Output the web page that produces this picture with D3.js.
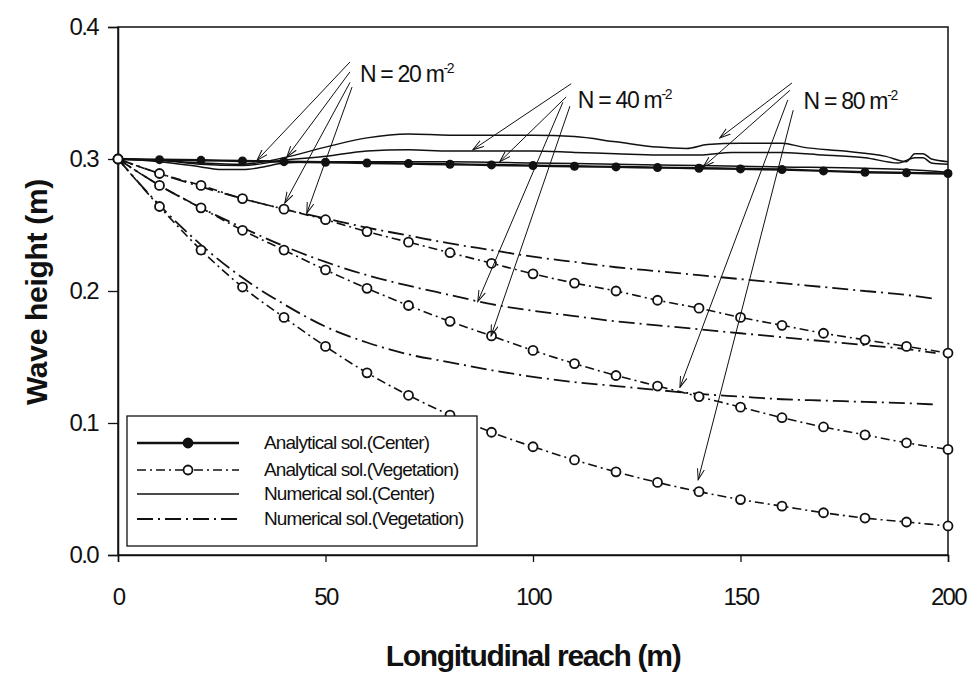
<!DOCTYPE html>
<html>
<head>
<meta charset="utf-8">
<script src="https://cdn.jsdelivr.net/npm/d3@7"></script>
<style>
  body { margin: 0; background: #fff; }
  svg { font-family: "Liberation Sans", Arial, sans-serif; }
</style>
</head>
<body>
<div id="svg-area"></div>
<script>
// ---- data ----
var stations = [0, 10, 20, 30, 40, 50, 60, 70, 80, 90, 100, 110, 120, 130, 140, 150, 160, 170, 180, 190, 200];

// analytical solution, centre of channel (filled dots)
var anaCenter = [0.300, 0.2995, 0.299, 0.2985, 0.298, 0.2975, 0.297, 0.2965, 0.296, 0.2955, 0.295,
  0.2945, 0.294, 0.2935, 0.293, 0.2925, 0.292, 0.291, 0.290, 0.2895, 0.289];

// analytical solution, vegetation zone (open circles)
var anaVeg20 = [0.300, 0.289, 0.280, 0.270, 0.262, 0.254, 0.245, 0.237, 0.229, 0.221, 0.213,
  0.206, 0.200, 0.193, 0.187, 0.180, 0.174, 0.168, 0.163, 0.158, 0.153];
var anaVeg40 = [0.300, 0.280, 0.263, 0.246, 0.231, 0.216, 0.202, 0.189, 0.177, 0.166, 0.155,
  0.145, 0.136, 0.128, 0.120, 0.112, 0.104, 0.097, 0.091, 0.085, 0.080];
var anaVeg80 = [0.300, 0.264, 0.231, 0.203, 0.180, 0.158, 0.138, 0.121, 0.106, 0.093, 0.082,
  0.072, 0.063, 0.055, 0.048, 0.042, 0.037, 0.032, 0.028, 0.025, 0.022];

// numerical solution, vegetation zone (no markers)
var numVeg20 = [0.300, 0.289, 0.279, 0.270, 0.262, 0.255, 0.248, 0.242, 0.236, 0.231, 0.226,
  0.222, 0.218, 0.215, 0.212, 0.209, 0.206, 0.203, 0.200, 0.197, 0.194];
var numVeg40 = [0.300, 0.280, 0.263, 0.248, 0.234, 0.222, 0.212, 0.204, 0.197, 0.190, 0.185,
  0.181, 0.177, 0.174, 0.171, 0.168, 0.165, 0.162, 0.159, 0.156, 0.153];
var numVeg80 = [0.300, 0.265, 0.235, 0.210, 0.190, 0.173, 0.161, 0.152, 0.146, 0.140, 0.135,
  0.131, 0.128, 0.125, 0.122, 0.120, 0.118, 0.117, 0.116, 0.115, 0.114];

// numerical solution, centre of channel (irregular sampling, x / value)
var numCenterA_x = [0, 10, 20, 30, 40, 50, 60, 70, 80, 90, 100, 110, 120, 130, 137, 142, 150, 160, 165, 175, 185, 190, 192, 194, 196, 200];
var numCenterA = [0.300, 0.299, 0.297, 0.296, 0.301, 0.309, 0.316, 0.319, 0.318, 0.318, 0.318, 0.317, 0.313, 0.309, 0.308, 0.311, 0.312, 0.312, 0.309, 0.306, 0.302, 0.298, 0.304, 0.304, 0.300, 0.298];
var numCenterB_x = [0, 10, 20, 30, 40, 50, 60, 70, 80, 90, 100, 110, 120, 130, 140, 148, 160, 170, 180, 188, 192, 194, 196, 200];
var numCenterB = [0.300, 0.299, 0.296, 0.295, 0.299, 0.302, 0.306, 0.307, 0.306, 0.306, 0.306, 0.305, 0.304, 0.303, 0.303, 0.305, 0.305, 0.303, 0.301, 0.297, 0.301, 0.301, 0.297, 0.296];
var numCenterC_x = [0, 10, 20, 25, 30, 35, 40, 50, 60, 80, 100, 120, 140, 160, 180, 190, 200];
var numCenterC = [0.300, 0.298, 0.294, 0.292, 0.292, 0.294, 0.297, 0.298, 0.298, 0.298, 0.297, 0.296, 0.295, 0.294, 0.293, 0.292, 0.290];

var xTicks = [0, 50, 100, 150, 200];
var yTicks = [0.0, 0.1, 0.2, 0.3, 0.4];

// annotation labels: text anchor, arrow tails and arrow heads in data units
var noteLabels = ["20", "40", "80"];
var notePos = [[58.3, 0.358], [110.8, 0.339], [165.2, 0.338]];
var noteTails = [
  [[55.9, 0.3735], [55.9, 0.366], [55.9, 0.358], [56.4, 0.3545]],
  [[109.2, 0.357], [108.0, 0.347], [107.2, 0.343], [108.9, 0.340]],
  [[162.4, 0.3576], [161.9, 0.352], [161.4, 0.3447], [162.7, 0.337]]
];
var noteHeads = [
  [[33.5, 0.299], [40.7, 0.3015], [40.2, 0.2667], [45.5, 0.259]],
  [[85.5, 0.307], [92.0, 0.298], [86.7, 0.192], [89.9, 0.166]],
  [[145.0, 0.316], [141.0, 0.294], [135.4, 0.127], [139.8, 0.057]]
];

var legendLabels = ["Analytical sol.(Center)", "Analytical sol.(Vegetation)", "Numerical sol.(Center)", "Numerical sol.(Vegetation)"];

// ---- layout ----
var svgWidth = 973;
var svgHeight = 677;
var margin = { top: 27, right: 25, bottom: 122, left: 118 };
var chartWidth = svgWidth - margin.left - margin.right;
var chartHeight = svgHeight - margin.top - margin.bottom;

var svg = d3.select("#svg-area")
  .append("svg")
  .attr("width", svgWidth)
  .attr("height", svgHeight);

var defs = svg.append("defs");
defs.append("marker")
  .attr("id", "arrow")
  .attr("viewBox", "0 0 12 8")
  .attr("refX", 11)
  .attr("refY", 4)
  .attr("markerWidth", 12)
  .attr("markerHeight", 8)
  .attr("markerUnits", "userSpaceOnUse")
  .attr("orient", "auto")
  .append("path")
  .attr("d", "M0,0.5 L11,4 L0,7.5")
  .attr("fill", "none")
  .attr("stroke", "#111")
  .attr("stroke-width", 1);

var chartGroup = svg.append("g")
  .attr("transform", `translate(${margin.left}, ${margin.top})`);

var xScale = d3.scaleLinear().domain([0, 200]).range([0, chartWidth]);
var yScale = d3.scaleLinear().domain([0, 0.4]).range([chartHeight, 0]);

// frame
chartGroup.append("rect")
  .attr("width", chartWidth)
  .attr("height", chartHeight)
  .attr("fill", "none")
  .attr("stroke", "#111")
  .attr("stroke-width", 1.5);

// axes
var bottomAxis = d3.axisBottom(xScale).tickValues(xTicks).tickSize(7).tickPadding(26).tickFormat(d3.format("d"));
var leftAxis = d3.axisLeft(yScale).tickValues(yTicks).tickSize(10).tickPadding(10).tickFormat(d3.format(".1f"));

var gx = chartGroup.append("g")
  .attr("transform", `translate(0, ${chartHeight})`)
  .call(bottomAxis);
var gy = chartGroup.append("g").call(leftAxis);

[gx, gy].forEach(function(g) {
  g.select(".domain").attr("stroke", "#111").attr("stroke-width", 1.5);
  g.selectAll(".tick line").attr("stroke", "#111").attr("stroke-width", 1.3);
  g.selectAll(".tick text")
    .attr("fill", "#111")
    .style("font-size", "24px")
    .style("letter-spacing", "-1.6px")
    .style("font-family", "Liberation Sans, Arial, sans-serif");
});

// axis titles
svg.append("text")
  .attr("x", margin.left + chartWidth / 2)
  .attr("y", 666)
  .attr("text-anchor", "middle")
  .style("font-size", "30px")
  .style("font-weight", "bold")
  .style("letter-spacing", "-1.3px")
  .attr("fill", "#111")
  .text("Longitudinal reach (m)");

svg.append("text")
  .attr("transform", `translate(47, 292) rotate(-90)`)
  .attr("text-anchor", "middle")
  .style("font-size", "30px")
  .style("font-weight", "bold")
  .style("letter-spacing", "-0.3px")
  .attr("fill", "#111")
  .text("Wave height (m)");

// line generators
var lineStations = d3.line()
  .x((d, i) => xScale(stations[i]))
  .y(d => yScale(d))
  .curve(d3.curveMonotoneX);

function lineXY(xs) {
  return d3.line()
    .x((d, i) => xScale(xs[i]))
    .y(d => yScale(d))
    .curve(d3.curveMonotoneX);
}

var dashNum = "16,5,2,5";
var dashAna = "9,4,2,4";

// numerical vegetation
[numVeg20, numVeg40, numVeg80].forEach(function(s) {
  chartGroup.append("path")
    .attr("d", lineXY(stations.slice(0, s.length - 1).concat([197]))(s))
    .attr("fill", "none")
    .attr("stroke", "#111")
    .attr("stroke-width", 1.8)
    .attr("stroke-dasharray", dashNum);
});

// analytical vegetation
[anaVeg20, anaVeg40, anaVeg80].forEach(function(s) {
  chartGroup.append("path")
    .attr("d", lineStations(s))
    .attr("fill", "none")
    .attr("stroke", "#111")
    .attr("stroke-width", 1.6)
    .attr("stroke-dasharray", dashAna);
});

// numerical center
[[numCenterA_x, numCenterA], [numCenterB_x, numCenterB], [numCenterC_x, numCenterC]].forEach(function(p) {
  chartGroup.append("path")
    .attr("d", lineXY(p[0])(p[1]))
    .attr("fill", "none")
    .attr("stroke", "#111")
    .attr("stroke-width", 1.5);
});

// analytical center
chartGroup.append("path")
  .attr("d", lineStations(anaCenter))
  .attr("fill", "none")
  .attr("stroke", "#111")
  .attr("stroke-width", 2.4);

chartGroup.selectAll("circle.center")
  .data(anaCenter)
  .enter()
  .append("circle")
  .attr("class", "center")
  .attr("cx", (d, i) => xScale(stations[i]))
  .attr("cy", d => yScale(d))
  .attr("r", 4.5)
  .attr("fill", "#111");

[anaVeg20, anaVeg40, anaVeg80].forEach(function(s, k) {
  chartGroup.selectAll("circle.veg" + k)
    .data(s)
    .enter()
    .append("circle")
    .attr("class", "veg" + k)
    .attr("cx", (d, i) => xScale(stations[i]))
    .attr("cy", d => yScale(d))
    .attr("r", 4.5)
    .attr("fill", "#fff")
    .attr("stroke", "#111")
    .attr("stroke-width", 1.8);
});

// annotations
noteLabels.forEach(function(lab, k) {
  noteTails[k].forEach(function(t, j) {
    var h = noteHeads[k][j];
    chartGroup.append("line")
      .attr("x1", xScale(t[0]))
      .attr("y1", yScale(t[1]))
      .attr("x2", xScale(h[0]))
      .attr("y2", yScale(h[1]))
      .attr("stroke", "#111")
      .attr("stroke-width", 1)
      .attr("marker-end", "url(#arrow)");
  });
  var txt = chartGroup.append("text")
    .attr("x", xScale(notePos[k][0]))
    .attr("y", yScale(notePos[k][1]))
    .style("font-size", "23px")
    .style("letter-spacing", "-1.3px")
    .attr("fill", "#111");
  txt.append("tspan").text("N = " + lab + " m");
  txt.append("tspan")
    .attr("dy", -9)
    .style("font-size", "14px")
    .text("-2");
});

// legend
var legend = svg.append("g").attr("transform", "translate(127, 416)");
legend.append("rect")
  .attr("width", 350)
  .attr("height", 130)
  .attr("fill", "#fff")
  .attr("stroke", "#111")
  .attr("stroke-width", 1.3);

var rowY = [27, 54, 78, 103];
var rowStyle = [
  { dash: null, w: 2.4, mark: "filled" },
  { dash: dashAna, w: 1.6, mark: "open" },
  { dash: null, w: 1.5, mark: null },
  { dash: dashNum, w: 1.8, mark: null }
];

legendLabels.forEach(function(lab, i) {
  var st = rowStyle[i];
  legend.append("line")
    .attr("x1", 10).attr("x2", 112)
    .attr("y1", rowY[i]).attr("y2", rowY[i])
    .attr("stroke", "#111")
    .attr("stroke-width", st.w)
    .attr("stroke-dasharray", st.dash);
  if (st.mark) {
    legend.append("circle")
      .attr("cx", 61).attr("cy", rowY[i]).attr("r", 4.5)
      .attr("fill", st.mark === "filled" ? "#111" : "#fff")
      .attr("stroke", "#111")
      .attr("stroke-width", 1.8);
  }
  legend.append("text")
    .attr("x", 137)
    .attr("y", rowY[i] + 6)
    .style("font-size", "19px")
    .style("letter-spacing", "-0.9px")
    .attr("fill", "#111")
    .text(lab);
});
</script>
</body>
</html>
